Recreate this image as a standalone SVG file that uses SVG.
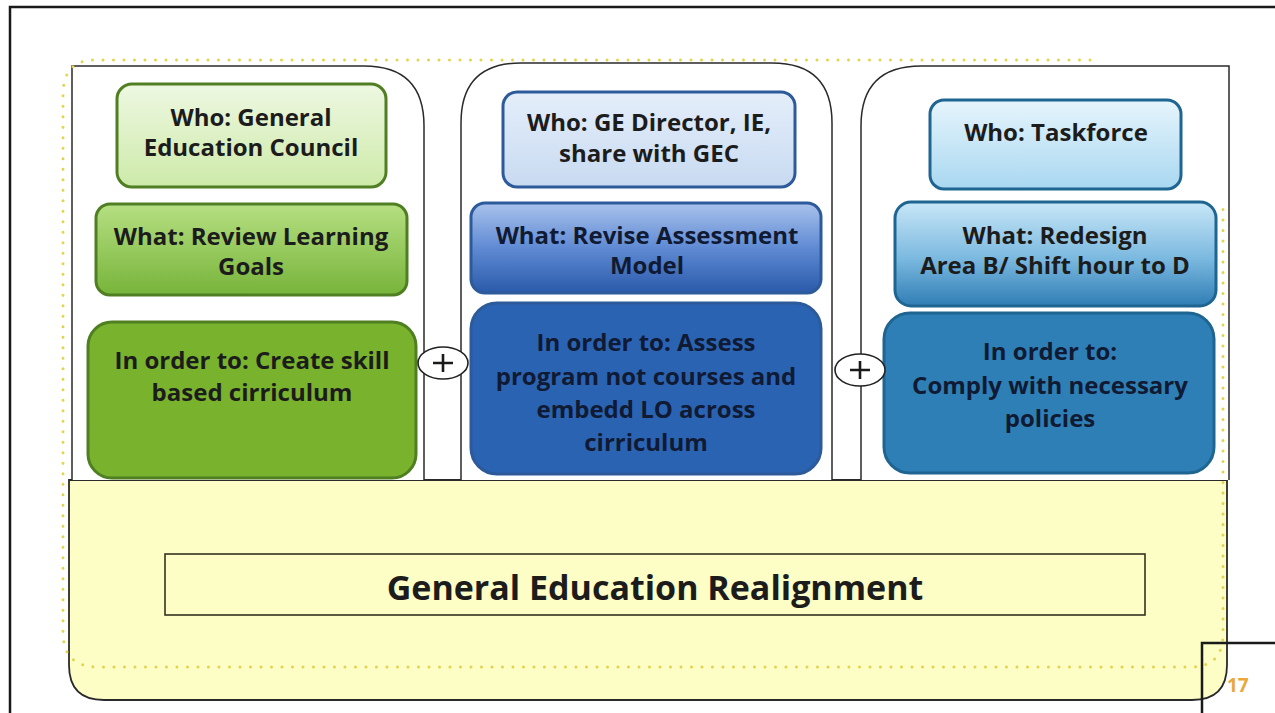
<svg xmlns="http://www.w3.org/2000/svg" width="1275" height="713" viewBox="0 0 1275 713">
  <defs>
    <linearGradient id="gWho1" x1="0" y1="0" x2="0" y2="1">
      <stop offset="0" stop-color="#eef8e2"/>
      <stop offset="1" stop-color="#cdeaa9"/>
    </linearGradient>
    <linearGradient id="gWhat1" x1="0" y1="0" x2="0" y2="1">
      <stop offset="0" stop-color="#b6df82"/>
      <stop offset="1" stop-color="#77b43a"/>
    </linearGradient>
    <linearGradient id="gWho2" x1="0" y1="0" x2="0" y2="1">
      <stop offset="0" stop-color="#e4eefa"/>
      <stop offset="1" stop-color="#c8daf1"/>
    </linearGradient>
    <linearGradient id="gWhat2" x1="0" y1="0" x2="0" y2="1">
      <stop offset="0" stop-color="#a9c2ec"/>
      <stop offset="0.5" stop-color="#5f8ad3"/>
      <stop offset="1" stop-color="#2a5aaa"/>
    </linearGradient>
    <linearGradient id="gWho3" x1="0" y1="0" x2="0" y2="1">
      <stop offset="0" stop-color="#e6f5fc"/>
      <stop offset="1" stop-color="#a9d7f1"/>
    </linearGradient>
    <linearGradient id="gWhat3" x1="0" y1="0" x2="0" y2="1">
      <stop offset="0" stop-color="#c8e7f7"/>
      <stop offset="0.55" stop-color="#7ab8df"/>
      <stop offset="1" stop-color="#2f7db5"/>
    </linearGradient>
    <style>
      .frame { fill: none; stroke: #1a1a1a; stroke-width: 2.5; }
      .col { fill: #ffffff; stroke: #2a2a2a; stroke-width: 1.5; }
      .base { fill: #fdfdc6; stroke: #2a2a2a; stroke-width: 1.8; }
      .title { fill: none; stroke: #333322; stroke-width: 1.6; }
      .dots { fill: none; stroke: #e3d44e; stroke-width: 3; stroke-linecap: round; stroke-dasharray: 0 10.5; }
      .box { stroke-width: 3; }
      .g { stroke: #4f7f22; }
      .b { stroke: #2c5a9a; }
      .c { stroke: #1f6592; }
      text { font-family: "Open Sans", Lato, "Liberation Sans", sans-serif; font-weight: bold; text-anchor: middle; }
      .t { font-size: 24px; fill: #1c1c1c; }
      .tb { font-size: 24px; fill: #101a33; }
      .big { font-size: 34px; fill: #1c1c1c; }
      .pg { font-size: 19px; fill: #e9a83a; text-anchor: start; }
      .plus { fill: #ffffff; stroke: #222222; stroke-width: 1.6; }
      .pl { stroke: #1a1a1a; stroke-width: 2.6; fill: none; }
    </style>
  </defs>

  <rect width="1275" height="713" fill="#ffffff"/>
  <path class="frame" d="M10,713 V7 H1275"/>

  <g id="base">
    <path class="base" d="M69,480 H1227 V665 Q1227,700 1192,700 H104 Q69,700 69,665 Z"/>
  </g>

  <g id="column1">
    <path class="col" d="M72,480 V66 H364 Q424,66 424,126 V480"/>
  </g>
  <g id="column2">
    <path class="col" d="M461,480 V123 Q461,63 521,63 H772 Q832,63 832,123 V480"/>
  </g>
  <g id="column3">
    <path class="col" d="M861,480 V126 Q861,66 921,66 H1229 V480"/>
  </g>

  <g id="title-box">
    <rect class="title" x="165" y="554" width="980" height="61"/>
    <text class="big" x="655" y="600">General Education Realignment</text>
  </g>

  <g id="who1">
    <rect class="box g" x="117" y="84" width="269" height="103" rx="15" fill="url(#gWho1)"/>
    <text class="t" x="251" y="126">Who: General</text>
    <text class="t" x="251" y="156">Education Council</text>
  </g>
  <g id="what1">
    <rect class="box g" x="96" y="204" width="311" height="91" rx="14" fill="url(#gWhat1)"/>
    <text class="t" x="251" y="245">What: Review Learning</text>
    <text class="t" x="251" y="275">Goals</text>
  </g>
  <g id="why1">
    <rect class="box g" x="88" y="322" width="328" height="156" rx="24" fill="#79b22d"/>
    <text class="t" x="252" y="369">In order to: Create skill</text>
    <text class="t" x="252" y="401">based cirriculum</text>
  </g>

  <g id="who2">
    <rect class="box b" x="503" y="92" width="292" height="95" rx="14" fill="url(#gWho2)"/>
    <text class="t" x="649" y="131">Who: GE Director, IE,</text>
    <text class="t" x="649" y="162">share with GEC</text>
  </g>
  <g id="what2">
    <rect class="box b" x="471" y="203" width="350" height="90" rx="14" fill="url(#gWhat2)"/>
    <text class="tb" x="647" y="244">What: Revise Assessment</text>
    <text class="tb" x="647" y="274">Model</text>
  </g>
  <g id="why2">
    <rect class="box b" x="471" y="303" width="350" height="171" rx="26" fill="#2b63b3" stroke="#2a5ea8"/>
    <text class="tb" x="646" y="351">In order to: Assess</text>
    <text class="tb" x="646" y="385">program not courses and</text>
    <text class="tb" x="646" y="418">embedd LO across</text>
    <text class="tb" x="646" y="451">cirriculum</text>
  </g>

  <g id="who3">
    <rect class="box c" x="930" y="100" width="251" height="89" rx="14" fill="url(#gWho3)"/>
    <text class="t" x="1056" y="141">Who: Taskforce</text>
  </g>
  <g id="what3">
    <rect class="box c" x="895" y="202" width="321" height="104" rx="16" fill="url(#gWhat3)"/>
    <text class="t" x="1055" y="244">What: Redesign</text>
    <text class="t" x="1055" y="274">Area B/ Shift hour to D</text>
  </g>
  <g id="why3">
    <rect class="box c" x="884" y="313" width="330" height="160" rx="26" fill="#2e7fb6"/>
    <text class="tb" x="1050" y="360">In order to:</text>
    <text class="tb" x="1050" y="394">Comply with necessary</text>
    <text class="tb" x="1050" y="427">policies</text>
  </g>

  <g id="plus1">
    <ellipse class="plus" cx="443" cy="363" rx="25" ry="16"/>
    <path class="pl" d="M433,363 H453 M443,354 V372"/>
  </g>
  <g id="plus2">
    <ellipse class="plus" cx="860" cy="370" rx="25" ry="16"/>
    <path class="pl" d="M850,370 H870 M860,361 V379"/>
  </g>

  <g id="dotted-outline">
    <path class="dots" d="M1090,60 H95 Q63,60 63,95 V632 Q63,667 98,667 H1190 Q1223,667 1223,634 V200"/>
  </g>

  <g id="page-number">
    <path class="frame" d="M1275,643 H1202 V713" stroke-width="1.5"/>
    <text class="pg" x="1227" y="692">17</text>
  </g>
</svg>
